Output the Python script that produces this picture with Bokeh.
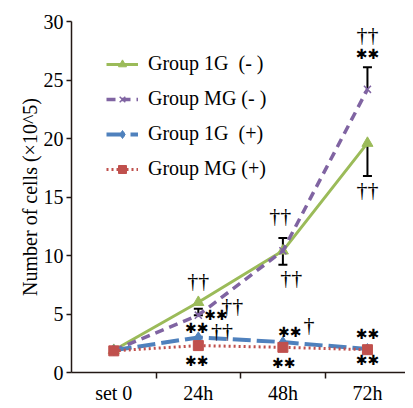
from bokeh.plotting import figure
from bokeh.models import ColumnDataSource, FixedTicker, Whisker, TeeHead, Legend, LegendItem
from bokeh.core.properties import value
from bokeh.embed import file_html
from bokeh.resources import INLINE

categories = ["set 0", "24h", "48h", "72h"]
x_pos = [0, 1, 2, 3]
g1_minus = [1.9, 6.0, 10.4, 19.6]
mg_minus = [1.9, 4.9, 10.4, 24.2]
g1_plus = [1.9, 3.0, 2.6, 2.0]
mg_plus = [1.85, 2.3, 2.15, 1.95]
y_ticks = [0, 5, 10, 15, 20, 25, 30]

# error bars
eb_x = [0, 1, 2]
eb_low = [1.55, 4.9, 9.2]
eb_up = [2.15, 5.45, 11.5]
eb_up_x = [3]
eb_up_low = [24.2]
eb_up_up = [26.1]
eb_dn_x = [3]
eb_dn_low = [16.8]
eb_dn_up = [19.6]

# significance marks
dag_x = [1.0, 1.4, 1.28, 1.97, 2.1, 3.0, 3.0]
dag_y = [7.9, 5.7, 3.6, 13.4, 8.1, 28.9, 15.6]
dag_t = ["††", "††", "††", "††", "††", "††", "††"]
dag1_x = [2.31]
dag1_y = [4.1]
dag1_t = ["†"]
ast_x = [1.21, 0.98, 0.98, 2.08, 2.01, 3.0, 3.0, 3.0]
ast_y = [4.9, 3.8, 1.0, 3.5, 0.8, 27.2, 3.3, 1.1]
ast_t = ["✱✱"] * 8

axis_col = "#231815"
serif = "Liberation Serif"

p = figure(width=405, height=406, output_backend="svg", toolbar_location=None,
           x_range=(-0.5, 3.45), y_range=(0, 30),
           min_border_left=71, min_border_right=0, min_border_top=21, min_border_bottom=0)
p.outline_line_color = None
p.grid.grid_line_color = None
p.background_fill_color = "white"

p.xaxis.ticker = FixedTicker(ticks=x_pos, minor_ticks=[0.5, 1.5, 2.5])
p.xaxis.major_label_overrides = {i: c for i, c in zip(x_pos, categories)}
p.xaxis.major_tick_out = 0
p.xaxis.major_tick_in = 0
p.xaxis.minor_tick_out = 6
p.xaxis.minor_tick_in = 0
p.xaxis.minor_tick_line_color = axis_col
p.xaxis.minor_tick_line_width = 1.5
p.xaxis.major_label_standoff = 3
p.yaxis.ticker = FixedTicker(ticks=y_ticks)
p.yaxis.minor_tick_line_color = None
p.yaxis.major_tick_out = 5
p.yaxis.major_tick_in = 0
p.yaxis.major_label_standoff = 3
p.yaxis.axis_label = "Number of cells (×10^5)"
p.yaxis.axis_label_standoff = 0
p.yaxis.axis_label_text_font_style = "normal"
for ax in (p.xaxis, p.yaxis):
    ax.axis_line_color = axis_col
    ax.axis_line_width = 1.5
    ax.major_tick_line_color = axis_col
    ax.major_tick_line_width = 1.5
    ax.major_label_text_font = serif
    ax.major_label_text_font_size = "20px"
    ax.major_label_text_color = "black"
    ax.axis_label_text_font = serif
    ax.axis_label_text_font_size = "20px"
    ax.axis_label_text_color = "black"

green, purple, blue, red = "#9BBB59", "#8064A2", "#4F81BD", "#C0504D"

l1 = p.line(x_pos, g1_minus, line_color=green, line_width=3)
m1 = p.scatter(x_pos, g1_minus, marker="triangle", size=11, fill_color=green, line_color=green)
l2 = p.line(x_pos, mg_minus, line_color=purple, line_width=3.5, line_dash="9 6")
m2 = p.scatter(x_pos, mg_minus, marker="x", size=10, line_color=purple, line_width=1.5)
l3 = p.line(x_pos, g1_plus, line_color=blue, line_width=4, line_dash="18 6")
m3 = p.scatter(x_pos, g1_plus, marker="diamond", size=11, fill_color=blue, line_color=blue)
l4 = p.line(x_pos, mg_plus, line_color=red, line_width=3, line_dash="2 3")
m4 = p.scatter(x_pos, mg_plus, marker="square", size=10, fill_color=red, line_color=red)

def add_whisker(xs, lo, up, lower_head=True, upper_head=True):
    src = ColumnDataSource(dict(base=xs, lower=lo, upper=up))
    w = Whisker(source=src, base="base", lower="lower", upper="upper",
                line_color="black", line_width=2,
                lower_head=TeeHead(size=9, line_color="black", line_width=2) if lower_head else None,
                upper_head=TeeHead(size=9, line_color="black", line_width=2) if upper_head else None)
    p.add_layout(w)

add_whisker(eb_x, eb_low, eb_up)
add_whisker(eb_up_x, eb_up_low, eb_up_up, lower_head=False)
add_whisker(eb_dn_x, eb_dn_low, eb_dn_up, upper_head=False)

p.text(dag_x, dag_y, text=dag_t, text_font=value(serif), text_font_size="22px",
       text_align="center", text_baseline="middle", text_color="black")
p.text(dag1_x, dag1_y, text=dag1_t, text_font=value(serif), text_font_size="22px",
       text_align="center", text_baseline="middle", text_color="black")
p.text(ast_x, ast_y, text=ast_t, text_font=value("DejaVu Sans"), text_font_size="14px",
       text_align="center", text_baseline="middle", text_color="black")

legend = Legend(items=[
    LegendItem(label="Group 1G  (- )", renderers=[l1, m1]),
    LegendItem(label="Group MG (- )", renderers=[l2, m2]),
    LegendItem(label="Group 1G  (+)", renderers=[l3, m3]),
    LegendItem(label="Group MG (+)", renderers=[l4, m4]),
], location=(35, 192))
legend.label_text_font = serif
legend.label_text_font_size = "20px"
legend.label_text_color = "black"
legend.border_line_color = None
legend.background_fill_alpha = 0
legend.glyph_width = 32
legend.spacing = 12
legend.label_standoff = 10
p.add_layout(legend)

open("out.html", "w").write(file_html(p, INLINE))
